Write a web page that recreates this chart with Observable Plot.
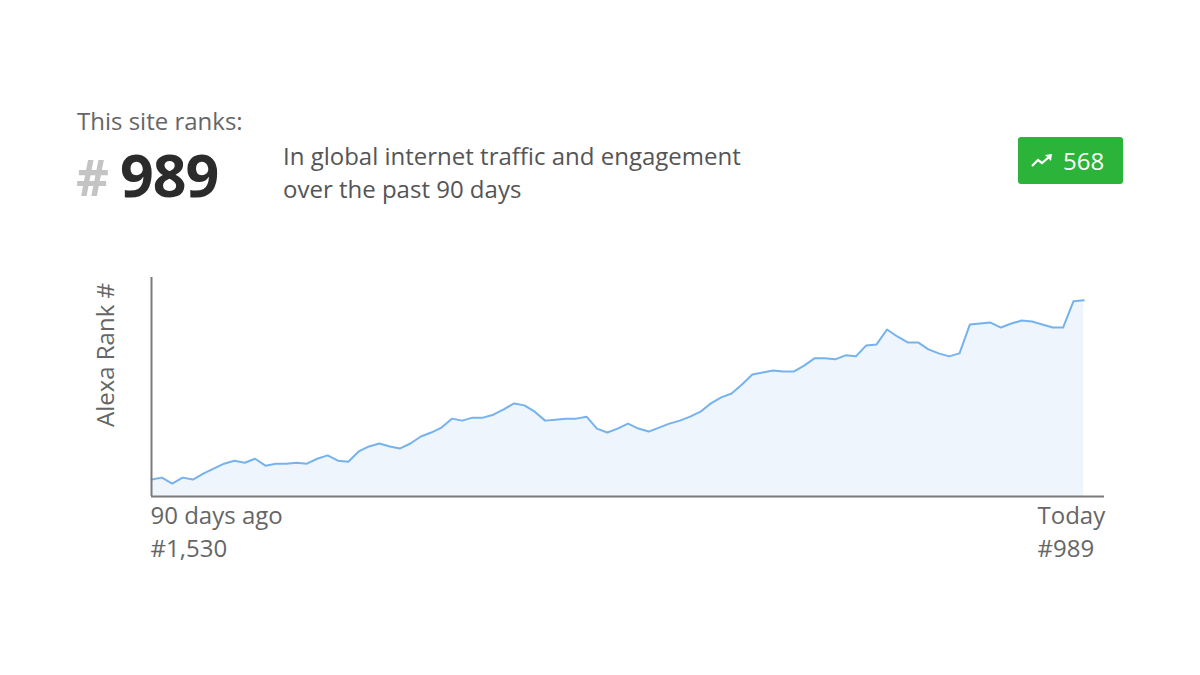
<!DOCTYPE html>
<html>
<head>
<meta charset="utf-8">
<script src="https://cdn.jsdelivr.net/npm/d3@7"></script>
<script src="https://cdn.jsdelivr.net/npm/@observablehq/plot@0.6"></script>
<style>
  html, body { margin: 0; padding: 0; background: #fff; }
  body { width: 1200px; height: 675px; position: relative; overflow: hidden; font-family: "Open Sans", sans-serif; }
  .abs { position: absolute; white-space: nowrap; }
  #ranks { left: 77px; top: 109px; font-size: 24px; color: #666; line-height: 1; }
  #hash { left: 76px; top: 151px; font-size: 51px; font-weight: 700; color: #c4c4c4; line-height: 1; }
  #big { left: 120px; top: 145px; font-size: 59px; font-weight: 700; color: #2b2b2b; line-height: 1; letter-spacing: -1px; }
  #desc { left: 283px; top: 139px; font-size: 24px; color: #555; line-height: 33px; }
  #badge { left: 1018px; top: 137px; width: 105px; height: 47px; background: #2bb33a; border-radius: 3px; color: #fff; font-size: 24px; line-height: 47px; }
  #badge svg { position: absolute; left: 13px; top: 16px; }
  #badge span { position: absolute; left: 45px; top: 0; }
  #chart { position: absolute; left: 0; top: 0; }
</style>
</head>
<body>
<div id="ranks" class="abs">This site ranks:</div>
<div id="hash" class="abs">#</div>
<div id="big" class="abs"></div>
<div id="desc" class="abs">In global internet traffic and engagement<br>over the past 90 days</div>
<div id="badge" class="abs">
  <svg width="24" height="16" viewBox="0 0 24 16"><polyline points="1,13 7,7 11,10 18,4" fill="none" stroke="#fff" stroke-width="2.2"/><polygon points="14,2 21,1 20,8" fill="#fff"/></svg>
  <span id="change"></span>
</div>
<div id="chart"></div>
<script>
// Alexa rank over the past 90 days (day 0 = 90 days ago, day 90 = today)
const days = d3.range(0, 91);
const ranks = [
  1530, 1524, 1542, 1524, 1530, 1512, 1497, 1482, 1473, 1479,
  1467, 1488, 1482, 1482, 1479, 1482, 1467, 1457, 1473, 1476,
  1445, 1430, 1421, 1430, 1436, 1421, 1400, 1388, 1373, 1346,
  1352, 1343, 1343, 1334, 1318, 1300, 1306, 1325, 1352, 1349,
  1346, 1346, 1340, 1376, 1388, 1376, 1361, 1376, 1385, 1373,
  1361, 1352, 1340, 1325, 1300, 1282, 1270, 1243, 1213, 1207,
  1201, 1204, 1204, 1186, 1164, 1164, 1167, 1155, 1158, 1125,
  1122, 1077, 1098, 1116, 1116, 1137, 1149, 1158, 1149, 1062,
  1059, 1056, 1071, 1059, 1050, 1053, 1062, 1071, 1071, 992,
  989
];
const currentRank = "989";
const rankChange = "568";
const startLabels = ["90 days ago", "#1,530"];
const endLabels = ["Today", "#989"];
const yLabel = "Alexa Rank #";

document.getElementById("big").textContent = currentRank;
document.getElementById("change").textContent = rankChange;

const data = days.map((d, i) => ({day: d, rank: ranks[i]}));
const yBottom = 1581, yTop = 920;

const chart = Plot.plot({
  width: 1200,
  height: 675,
  marginTop: 277,
  marginBottom: 179,
  marginLeft: 151,
  marginRight: 96,
  style: {fontFamily: "Open Sans, sans-serif", background: "transparent", overflow: "visible"},
  x: {domain: [0, 92], axis: null},
  y: {domain: [yBottom, yTop], axis: null},
  marks: [
    Plot.areaY(data, {x: "day", y1: yBottom, y2: "rank", fill: "#eef5fc"}),
    Plot.line(data, {x: "day", y: "rank", stroke: "#76b3ee", strokeWidth: 2}),
    Plot.ruleY([yBottom], {stroke: "#7a7a7a", strokeWidth: 2}),
    Plot.ruleX([0], {stroke: "#7a7a7a", strokeWidth: 2}),
    Plot.text([startLabels.join("\n")], {frameAnchor: "bottom-left", textAnchor: "start", lineAnchor: "top", dy: 4, dx: -1, fontSize: 24, fill: "#666", lineHeight: 1.38}),
    Plot.text([endLabels.join("\n")], {frameAnchor: "bottom-right", textAnchor: "start", lineAnchor: "top", dy: 4, dx: -67, fontSize: 24, fill: "#666", lineHeight: 1.38}),
    Plot.text([yLabel], {frameAnchor: "left", textAnchor: "middle", rotate: -90, dx: -45, dy: -32, fontSize: 24, fill: "#666"})
  ]
});
document.getElementById("chart").appendChild(chart);
</script>
</body>
</html>
